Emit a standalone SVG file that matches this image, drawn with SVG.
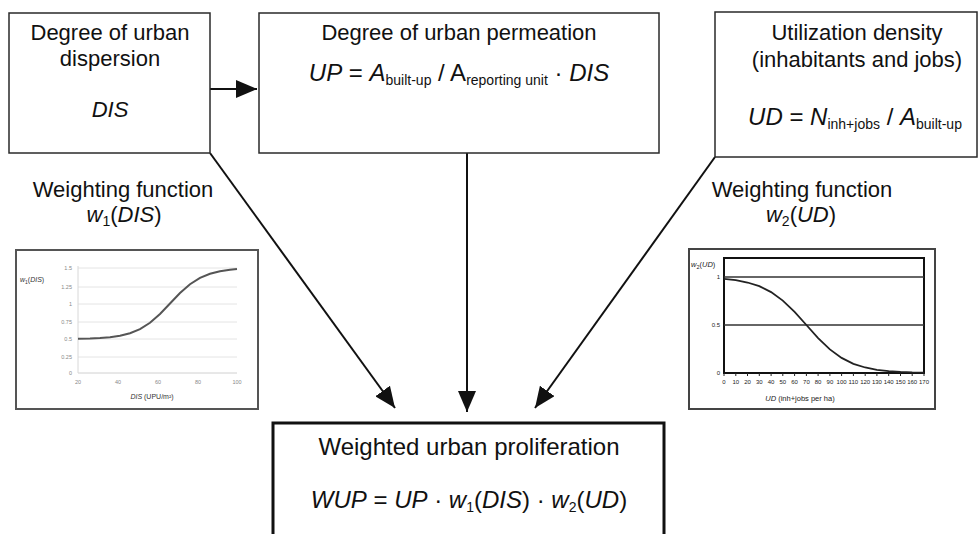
<svg xmlns="http://www.w3.org/2000/svg" width="979" height="534" viewBox="0 0 979 534">
<style>
.box{fill:#fff;stroke:#2a2a2a;stroke-width:1.5}
.t{font-family:"Liberation Sans",Arial,sans-serif;font-size:22px;fill:#111}
.f{font-family:"Liberation Sans",Arial,sans-serif;font-size:24px;fill:#111}
.i{font-style:italic}
.s{font-size:14px}
.conn{stroke:#111;stroke-width:2;fill:none}
.grid{stroke:#e4e4e4;stroke-width:1}
.tk{font-family:"Liberation Sans",Arial,sans-serif;font-size:5.5px;fill:#888}
.tk2{font-family:"Liberation Sans",Arial,sans-serif;font-size:6px;fill:#222}
</style>
<defs>
<marker id="ah" markerUnits="userSpaceOnUse" markerWidth="22" markerHeight="18" refX="21" refY="9" orient="auto">
<path d="M0,0 L21,9 L0,18 z" fill="#111"/>
</marker>
</defs>
<rect width="979" height="534" fill="#fff"/>

<g id="connectors">
<line class="conn" x1="210" y1="89" x2="257" y2="89" marker-end="url(#ah)"/>
<line class="conn" x1="210" y1="153" x2="395" y2="408" marker-end="url(#ah)"/>
<line class="conn" x1="467" y1="153" x2="467" y2="412" marker-end="url(#ah)"/>
<line class="conn" x1="715" y1="157" x2="535" y2="408" marker-end="url(#ah)"/>
</g>

<g id="node-dispersion">
<rect class="box" x="9" y="13" width="201" height="140"/>
<text class="t" x="110" y="40" text-anchor="middle">Degree of urban</text>
<text class="t" x="110" y="66" text-anchor="middle">dispersion</text>
<text class="t i" x="110" y="117" text-anchor="middle">DIS</text>
</g>

<g id="node-permeation">
<rect class="box" x="259" y="13" width="400" height="140"/>
<text class="t" x="459" y="40" text-anchor="middle">Degree of urban permeation</text>
<text class="f" x="459" y="81" text-anchor="middle"><tspan class="i">UP</tspan> = <tspan class="i">A</tspan><tspan class="s" dy="4">built-up</tspan><tspan dy="-4"> / A</tspan><tspan class="s" dy="4">reporting unit</tspan><tspan dy="-4"> · </tspan><tspan class="i">DIS</tspan></text>
</g>

<g id="node-density">
<rect class="box" x="715" y="12" width="262" height="145"/>
<text class="t" x="857" y="40" text-anchor="middle">Utilization density</text>
<text class="t" x="857" y="67" text-anchor="middle">(inhabitants and jobs)</text>
<text class="f" x="855" y="125" text-anchor="middle"><tspan class="i">UD</tspan> = <tspan class="i">N</tspan><tspan class="s" dy="4">inh+jobs</tspan><tspan dy="-4"> / </tspan><tspan class="i">A</tspan><tspan class="s" dy="4">built-up</tspan></text>
</g>

<g id="node-wup">
<rect x="273" y="423" width="391" height="130" fill="#fff" stroke="#111" stroke-width="3"/>
<text class="f" x="469" y="455" text-anchor="middle">Weighted urban proliferation</text>
<text class="f" x="469" y="508" text-anchor="middle"><tspan class="i">WUP</tspan> = <tspan class="i">UP</tspan> · <tspan class="i">w</tspan><tspan class="s" dy="4">1</tspan><tspan dy="-4">(</tspan><tspan class="i">DIS</tspan>) · <tspan class="i">w</tspan><tspan class="s" dy="4">2</tspan><tspan dy="-4">(</tspan><tspan class="i">UD</tspan>)</text>
</g>

<g id="label-w1">
<text class="t" x="123" y="197" text-anchor="middle">Weighting function</text>
<text class="t" x="124" y="222" text-anchor="middle"><tspan class="i">w</tspan><tspan class="s" dy="4">1</tspan><tspan dy="-4">(</tspan><tspan class="i">DIS</tspan>)</text>
</g>

<g id="label-w2">
<text class="t" x="802" y="197" text-anchor="middle">Weighting function</text>
<text class="t" x="801" y="222" text-anchor="middle"><tspan class="i">w</tspan><tspan class="s" dy="4">2</tspan><tspan dy="-4">(</tspan><tspan class="i">UD</tspan>)</text>
</g>

<g id="chart-w1">
<rect x="16" y="250" width="242" height="159" fill="#fff" stroke="#555" stroke-width="2"/>
<g class="grid">
<line x1="78" y1="268" x2="237" y2="268"/>
<line x1="78" y1="287" x2="237" y2="287"/>
<line x1="78" y1="304" x2="237" y2="304"/>
<line x1="78" y1="322" x2="237" y2="322"/>
<line x1="78" y1="339" x2="237" y2="339"/>
<line x1="78" y1="357" x2="237" y2="357"/>
<line x1="78" y1="373" x2="237" y2="373" stroke="#d0d0d0"/>
<line x1="78" y1="266" x2="78" y2="373" stroke="#d8d8d8"/>
</g>
<g class="tk" text-anchor="end">
<text x="72" y="270">1.5</text>
<text x="72" y="289">1.25</text>
<text x="72" y="306">1</text>
<text x="72" y="324">0.75</text>
<text x="72" y="341">0.5</text>
<text x="72" y="359">0.25</text>
<text x="72" y="375">0</text>
</g>
<g class="tk" text-anchor="middle">
<text x="78" y="384">20</text>
<text x="118" y="384">40</text>
<text x="158" y="384">60</text>
<text x="198" y="384">80</text>
<text x="237" y="384">100</text>
</g>
<text x="20" y="282" font-family="'Liberation Sans',Arial,sans-serif" font-size="7px" fill="#333"><tspan font-style="italic">w</tspan><tspan font-size="5px" dy="2">1</tspan><tspan dy="-2">(</tspan><tspan font-style="italic">DIS</tspan>)</text>
<text x="152" y="399" text-anchor="middle" font-family="'Liberation Sans',Arial,sans-serif" font-size="7px" fill="#333"><tspan font-style="italic">DIS</tspan>  (UPU/m²)</text>
<polyline fill="none" stroke="#555" stroke-width="2" points="78,338.7 90,338.5 100,338 110,337.2 120,335.8 130,333.3 140,329.2 150,322.8 160,314 170,303.5 180,293 190,284.2 200,277.8 210,273.7 220,271.2 230,269.8 237,269.1"/>
</g>

<g id="chart-w2">
<rect x="689" y="249" width="246" height="160" fill="#fff" stroke="#444" stroke-width="2"/>
<rect x="724" y="258" width="200" height="115" fill="none" stroke="#111" stroke-width="2"/>
<line x1="724" y1="277" x2="924" y2="277" stroke="#333" stroke-width="1.5"/>
<line x1="724" y1="325" x2="924" y2="325" stroke="#333" stroke-width="1.5"/>
<g stroke="#222" stroke-width="1">
<line x1="724" y1="373" x2="724" y2="376"/><line x1="735.8" y1="373" x2="735.8" y2="376"/><line x1="747.5" y1="373" x2="747.5" y2="376"/><line x1="759.3" y1="373" x2="759.3" y2="376"/><line x1="771.1" y1="373" x2="771.1" y2="376"/><line x1="782.8" y1="373" x2="782.8" y2="376"/><line x1="794.6" y1="373" x2="794.6" y2="376"/><line x1="806.4" y1="373" x2="806.4" y2="376"/><line x1="818.1" y1="373" x2="818.1" y2="376"/><line x1="829.9" y1="373" x2="829.9" y2="376"/><line x1="841.6" y1="373" x2="841.6" y2="376"/><line x1="853.4" y1="373" x2="853.4" y2="376"/><line x1="865.2" y1="373" x2="865.2" y2="376"/><line x1="876.9" y1="373" x2="876.9" y2="376"/><line x1="888.7" y1="373" x2="888.7" y2="376"/><line x1="900.5" y1="373" x2="900.5" y2="376"/><line x1="912.2" y1="373" x2="912.2" y2="376"/><line x1="924" y1="373" x2="924" y2="376"/>
</g>
<g class="tk2" text-anchor="end">
<text x="720" y="279">1</text>
<text x="720" y="327">0.5</text>
<text x="720" y="375">0</text>
</g>
<g class="tk2" text-anchor="middle">
<text x="724" y="384">0</text><text x="735.8" y="384">10</text><text x="747.5" y="384">20</text><text x="759.3" y="384">30</text><text x="771.1" y="384">40</text><text x="782.8" y="384">50</text><text x="794.6" y="384">60</text><text x="806.4" y="384">70</text><text x="818.1" y="384">80</text><text x="829.9" y="384">90</text><text x="841.6" y="384">100</text><text x="853.4" y="384">110</text><text x="865.2" y="384">120</text><text x="876.9" y="384">130</text><text x="888.7" y="384">140</text><text x="900.5" y="384">150</text><text x="912.2" y="384">160</text><text x="924" y="384">170</text>
</g>
<text x="691" y="267" font-family="'Liberation Sans',Arial,sans-serif" font-size="7.5px" fill="#222"><tspan font-style="italic">w</tspan><tspan font-size="5.5px" dy="2">2</tspan><tspan dy="-2">(</tspan><tspan font-style="italic">UD</tspan>)</text>
<text x="800" y="401" text-anchor="middle" font-family="'Liberation Sans',Arial,sans-serif" font-size="7.5px" fill="#222"><tspan font-style="italic">UD</tspan>  (inh+jobs per ha)</text>
<polyline fill="none" stroke="#222" stroke-width="1.8" points="724,278.9 735.8,280.2 747.5,282.5 759.3,286.2 771.1,292.1 782.8,300.6 794.6,311.9 806.4,325 818.1,338.1 829.9,349.4 841.6,357.9 853.4,363.8 865.2,367.5 876.9,369.8 888.7,371.1 900.5,371.9 912.2,372.4 924,372.6"/>
</g>
</svg>
